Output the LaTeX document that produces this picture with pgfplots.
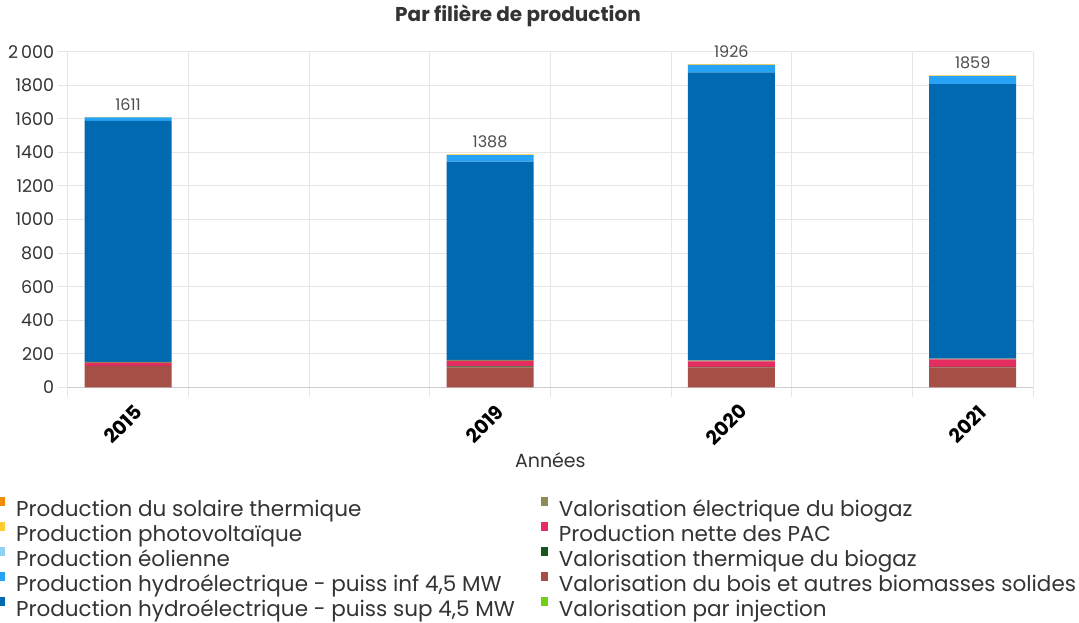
\documentclass[border=0pt]{standalone}
\usepackage{fontspec}
\setmainfont{Poppins}
\usepackage{pgfplots}
\usepackage{pgfplotstable}
\pgfplotsset{compat=1.18}
\definecolor{csol}{HTML}{F08C00}
\definecolor{cpv}{HTML}{FFCC33}
\definecolor{ceol}{HTML}{8FD3F2}
\definecolor{chinf}{HTML}{27A3F5}
\definecolor{chsup}{HTML}{0069B0}
\definecolor{cbel}{HTML}{8F8A5A}
\definecolor{cpac}{HTML}{E42E62}
\definecolor{cbth}{HTML}{17561C}
\definecolor{cbois}{HTML}{A64F47}
\definecolor{cinj}{HTML}{6FD016}
\definecolor{cgrid}{HTML}{E6E6E6}
\definecolor{ctxt}{HTML}{333333}
\pgfplotstableread{
x solar pv eol hinf hsup belec pac btherm bois inj total
0 0 2 0 22 1436 5 18 2 126 0 1611
3 1 3 0 39 1181 8 32 6 118 0 1388
5 1 3 0 45 1716 6 33 4 118 0 1926
7 1 3 0 48 1636 4 45 4 118 0 1859
}\data
\begin{document}
\begin{tikzpicture}
\path[use as bounding box] (0,0) rectangle (1079pt,623pt);
\node[font=\fontsize{20}{22}\selectfont\bfseries, text=ctxt] at (518pt,607pt) {Par filière de production};
\begin{axis}[
  at={(67.7pt,235.7pt)}, anchor=south west,
  scale only axis, width=965.3pt, height=335.6pt,
  ybar stacked, bar width=87pt,
  xmin=-0.5, xmax=7.5, ymin=0, ymax=2000,
  xtick={0,3,5,7}, xticklabels={2015,2019,2020,2021},
  minor xtick={-0.5,0.5,...,7.5},
  major x tick style={draw=none},
  xticklabel style={xshift=-5pt, yshift=-27pt, rotate=45, anchor=center, font=\fontsize{19.5}{21}\selectfont\bfseries, text=black},
  ytick={0,200,...,2000},
  yticklabels={0,200,400,600,800,1000,1200,1400,1600,1800,2\,000},
  yticklabel style={font=\fontsize{17.5}{19}\selectfont, text=ctxt},
  xminorgrids, ymajorgrids,
  major grid style={cgrid, line width=0.9pt},
  minor grid style={cgrid, line width=0.9pt},
  major tick length=10pt, minor tick length=10pt, tick align=outside,
  every tick/.style={cgrid, line width=0.9pt},
  axis x line*=bottom, axis y line*=left,
  x axis line style={draw={rgb,255:red,204;green,204;blue,204}, line width=1pt, -},
  y axis line style={draw=none},
  xlabel={Années}, xlabel style={font=\fontsize{19}{21}\selectfont, text=ctxt, yshift=2pt},
  /pgf/number format/assume math mode=true,
  legend style={at={(-0.0722,-0.3373)}, anchor=north west, draw=none, fill=none,
    inner sep=0pt, font=\fontsize{21.5}{23}\selectfont, text=ctxt,
    nodes={inner xsep=2pt, inner ysep=0pt, text height=16pt, text depth=9pt},
    /tikz/every even column/.append style={column sep=24pt}},
  legend columns=5, transpose legend, legend cell align=left,
  legend image code/.code={\fill[#1, overlay] (0pt,7.5pt) rectangle (6pt,15.5pt); \path[draw=none, fill=none] (0pt,5pt) -- (16pt,5pt);},
]
\addplot[fill=cinj, draw=none, forget plot] table[x=x, y=inj] {\data};
\addplot[fill=cbois, draw=none, forget plot] table[x=x, y=bois] {\data};
\addplot[fill=cbth, draw=none, forget plot] table[x=x, y=btherm] {\data};
\addplot[fill=cpac, draw=none, forget plot] table[x=x, y=pac] {\data};
\addplot[fill=cbel, draw=none, forget plot] table[x=x, y=belec] {\data};
\addplot[fill=chsup, draw=none, forget plot] table[x=x, y=hsup] {\data};
\addplot[fill=chinf, draw=none, forget plot] table[x=x, y=hinf] {\data};
\addplot[fill=ceol, draw=none, forget plot] table[x=x, y=eol] {\data};
\addplot[fill=cpv, draw=none, forget plot,
  point meta=explicit, nodes near coords,
  nodes near coords style={font=\fontsize{16}{18}\selectfont, text={rgb,255:red,77;green,77;blue,77}, anchor=south, yshift=3.5pt},
  /pgf/number format/.cd, fixed, 1000 sep={}] table[x=x, y=pv, meta=total] {\data};
\addplot[fill=csol, draw=none, forget plot] table[x=x, y=solar] {\data};
\addlegendimage{csol}\addlegendentry{Production du solaire thermique}
\addlegendimage{cpv}\addlegendentry{Production photovoltaïque}
\addlegendimage{ceol}\addlegendentry{Production éolienne}
\addlegendimage{chinf}\addlegendentry{Production hydroélectrique - puiss inf 4,5 MW}
\addlegendimage{chsup}\addlegendentry{Production hydroélectrique - puiss sup 4,5 MW}
\addlegendimage{cbel}\addlegendentry{Valorisation électrique du biogaz}
\addlegendimage{cpac}\addlegendentry{Production nette des PAC}
\addlegendimage{cbth}\addlegendentry{Valorisation thermique du biogaz}
\addlegendimage{cbois}\addlegendentry{Valorisation du bois et autres biomasses solides}
\addlegendimage{cinj}\addlegendentry{Valorisation par injection}
\end{axis}
\end{tikzpicture}
\end{document}
